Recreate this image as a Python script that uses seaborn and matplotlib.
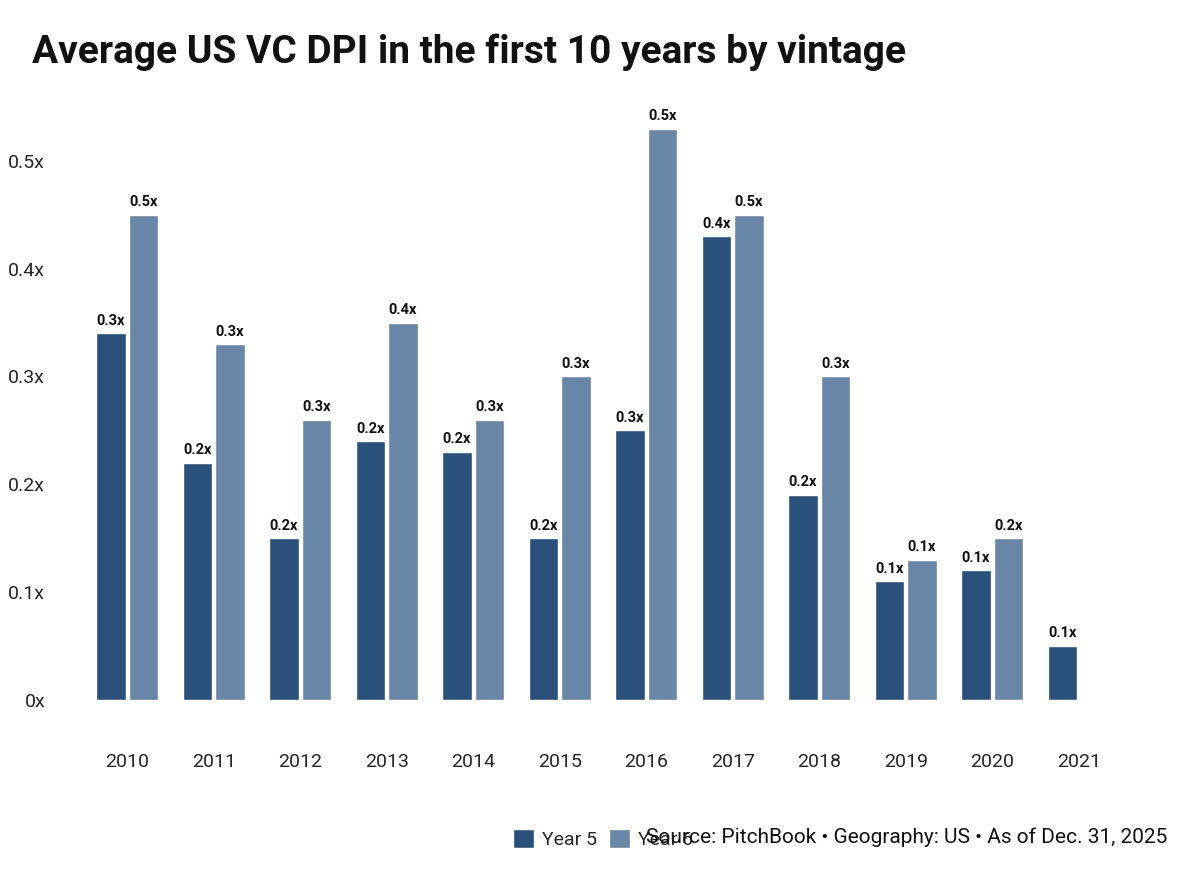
import numpy as np
import pandas as pd
import matplotlib.pyplot as plt
import seaborn as sns

## chart data
years = ["2010", "2011", "2012", "2013", "2014", "2015", "2016", "2017", "2018", "2019", "2020", "2021"]
year5 = [0.34, 0.22, 0.15, 0.24, 0.23, 0.15, 0.25, 0.43, 0.19, 0.11, 0.12, 0.05]
year6 = [0.45, 0.33, 0.26, 0.35, 0.26, 0.30, 0.53, 0.45, 0.30, 0.13, 0.15, np.nan]
year5_labels = ["0.3x", "0.2x", "0.2x", "0.2x", "0.2x", "0.2x", "0.3x", "0.4x", "0.2x", "0.1x", "0.1x", "0.1x"]
year6_labels = ["0.5x", "0.3x", "0.3x", "0.4x", "0.3x", "0.3x", "0.5x", "0.5x", "0.3x", "0.1x", "0.2x", ""]
y_ticks = [0, 0.1, 0.2, 0.3, 0.4, 0.5]
y_tick_labels = ["0x", "0.1x", "0.2x", "0.3x", "0.4x", "0.5x"]

df = pd.DataFrame({
    "year": years * 2,
    "series": ["Year 5"] * len(years) + ["Year 6"] * len(years),
    "dpi": year5 + year6,
    "label": year5_labels + year6_labels,
}).dropna()

sns.set_style("white")
plt.rcParams["font.family"] = ["Roboto", "DejaVu Sans"]

fig = plt.figure(figsize=(12, 8.77), dpi=100)
ax = fig.add_axes([0.07, 0.202, 0.865, 0.676])

sns.barplot(data=df, x="year", y="dpi", hue="series", order=years,
            hue_order=["Year 5", "Year 6"],
            palette=["#2B507A", "#6A86A6"], width=0.75, gap=0.1,
            saturation=1, ax=ax, legend=True)

## bar labels
for cont, name in zip(ax.containers, ["Year 5", "Year 6"]):
    labs = df[df["series"] == name]["label"].tolist()
    bars = [b for b in cont if b is not None]
    for b, lab in zip(bars, labs):
        ax.annotate(lab, (b.get_x() + b.get_width() / 2, b.get_height()),
                    xytext=(0, 4), textcoords="offset points", ha="center", va="bottom",
                    fontsize=10.5, fontweight="bold", color="#111111")

ax.set_ylim(0, 0.55)
ax.set_yticks(y_ticks)
ax.set_yticklabels(y_tick_labels)
ax.tick_params(axis="y", labelsize=14, length=0, pad=28)
ax.tick_params(axis="x", labelsize=14, length=0, pad=38)
ax.set_xlabel("")
ax.set_ylabel("")
sns.despine(ax=ax, left=True, bottom=True)

## legend
handles, labels = ax.get_legend_handles_labels()
ax.legend(handles, labels, loc="center", bbox_to_anchor=(0.5, -0.235), ncol=2,
          frameon=False, fontsize=14, handlelength=1.1, handleheight=1.1,
          columnspacing=0.6, handletextpad=0.4)

fig.text(0.027, 0.94, "Average US VC DPI in the first 10 years by vintage",
         fontsize=28, fontweight="bold", color="#111111", va="center")
fig.text(0.973, 0.045, "Source: PitchBook \u2022 Geography: US \u2022 As of Dec. 31, 2025",
         fontsize=15, ha="right", va="center", color="#111111")

fig.savefig("out.png", dpi=100)
